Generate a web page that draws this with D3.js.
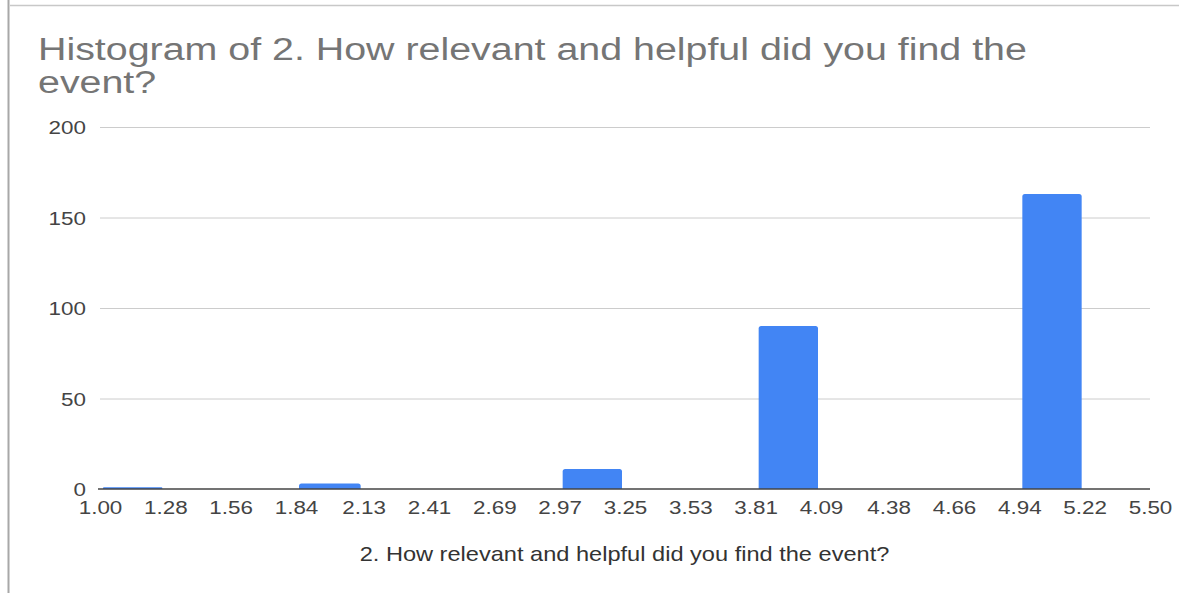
<!DOCTYPE html>
<html>
<head>
<meta charset="utf-8">
<script src="https://cdn.jsdelivr.net/npm/d3@7/dist/d3.min.js"></script>
<style>
  html, body { margin: 0; padding: 0; background: #fff; }
  svg { display: block; font-family: "Liberation Sans", Arial, sans-serif; }
</style>
</head>
<body>
<svg id="chart" width="1179" height="593"></svg>
<script>
// ---- data ----
const titleLines = ["Histogram of 2. How relevant and helpful did you find the", "event?"];
const xAxisTitle = "2. How relevant and helpful did you find the event?";
const binEdgeLabels = ["1.00","1.28","1.56","1.84","2.13","2.41","2.69","2.97","3.25","3.53","3.81","4.09","4.38","4.66","4.94","5.22","5.50"];
const binCounts = [1, 0, 0, 3, 0, 0, 0, 11, 0, 0, 90, 0, 0, 0, 163, 0];
const yTicks = [0, 50, 100, 150, 200];

// ---- layout ----
const W = 1179, H = 593;
const plot = { left: 100, right: 1150, top: 127, bottom: 489 };
const SX = 1.18; // horizontal stretch of the reference image text
const svg = d3.select("#chart");

// frame (screenshot border)
svg.append("line").attr("x1", 10).attr("x2", W).attr("y1", 5.5).attr("y2", 5.5)
  .attr("stroke", "#c8c8c8").attr("stroke-width", 1.5);
svg.append("line").attr("x1", 8.5).attr("x2", 8.5).attr("y1", 0).attr("y2", H)
  .attr("stroke", "#a8a8a8").attr("stroke-width", 2);

const edges = binEdgeLabels.map(Number);
const x = d3.scaleLinear().domain([edges[0], edges[edges.length - 1]]).range([plot.left, plot.right]);
const y = d3.scaleLinear().domain([0, 200]).range([plot.bottom, plot.top]);

// gridlines
svg.append("g").selectAll("line").data(yTicks.filter(d => d > 0)).join("line")
  .attr("x1", plot.left).attr("x2", plot.right)
  .attr("y1", d => y(d) + 0.5).attr("y2", d => y(d) + 0.5)
  .attr("stroke", "#cccccc").attr("stroke-width", 1);

// bars
const bins = binCounts.map((c, i) => ({ x0: edges[i], x1: edges[i + 1], count: c })).filter(b => b.count > 0);
const r = 2.5;
svg.append("g").selectAll("path").data(bins).join("path")
  .attr("fill", "#4285f4")
  .attr("d", b => {
    const x0 = x(b.x0) + 3, x1 = x(b.x1) - 3, yt = y(b.count), yb = y(0);
    const rr = Math.min(r, (yb - yt) / 2, (x1 - x0) / 2);
    return `M${x0},${yb}V${yt + rr}Q${x0},${yt} ${x0 + rr},${yt}H${x1 - rr}Q${x1},${yt} ${x1},${yt + rr}V${yb}Z`;
  });

// baseline
svg.append("line").attr("x1", plot.left - 2).attr("x2", plot.right)
  .attr("y1", y(0)).attr("y2", y(0))
  .attr("stroke", "#444").attr("stroke-width", 1.5);

// x axis
const xAxis = d3.axisBottom(x).tickValues(edges).tickFormat((d, i) => binEdgeLabels[i]).tickSize(0).tickPadding(0);
const gx = svg.append("g").attr("transform", `translate(0,${y(0)})`).call(xAxis);
gx.select(".domain").remove();
gx.selectAll("text")
  .attr("y", 25).attr("dy", null)
  .attr("transform", `scale(${SX},1)`)
  .attr("fill", "#444").style("font-size", "19px").style("font-family", "Liberation Sans, Arial, sans-serif");

// y axis
const yAxis = d3.axisLeft(y).tickValues(yTicks).tickFormat(d3.format("d")).tickSize(0).tickPadding(0);
const gy = svg.append("g").attr("transform", `translate(86,0)`).call(yAxis);
gy.select(".domain").remove();
gy.selectAll("text")
  .attr("x", 0).attr("dy", "0.35em")
  .attr("transform", `scale(${SX},1)`)
  .attr("fill", "#444").style("font-size", "19px").style("font-family", "Liberation Sans, Arial, sans-serif");

// title
const TSX = 1.27;
const tg = svg.append("g").attr("transform", `translate(38,0) scale(${TSX},1)`);
tg.selectAll("text").data(titleLines).join("text")
  .attr("x", 0).attr("y", (d, i) => 60 + i * 33)
  .attr("fill", "#757575").style("font-size", "31px")
  .text(d => d);

// x-axis title
svg.append("text")
  .attr("transform", `translate(${(plot.left + plot.right) / 2 - 0.5},561) scale(${SX},1)`)
  .attr("text-anchor", "middle")
  .attr("fill", "#333").style("font-size", "20px")
  .text(xAxisTitle);
</script>
</body>
</html>
